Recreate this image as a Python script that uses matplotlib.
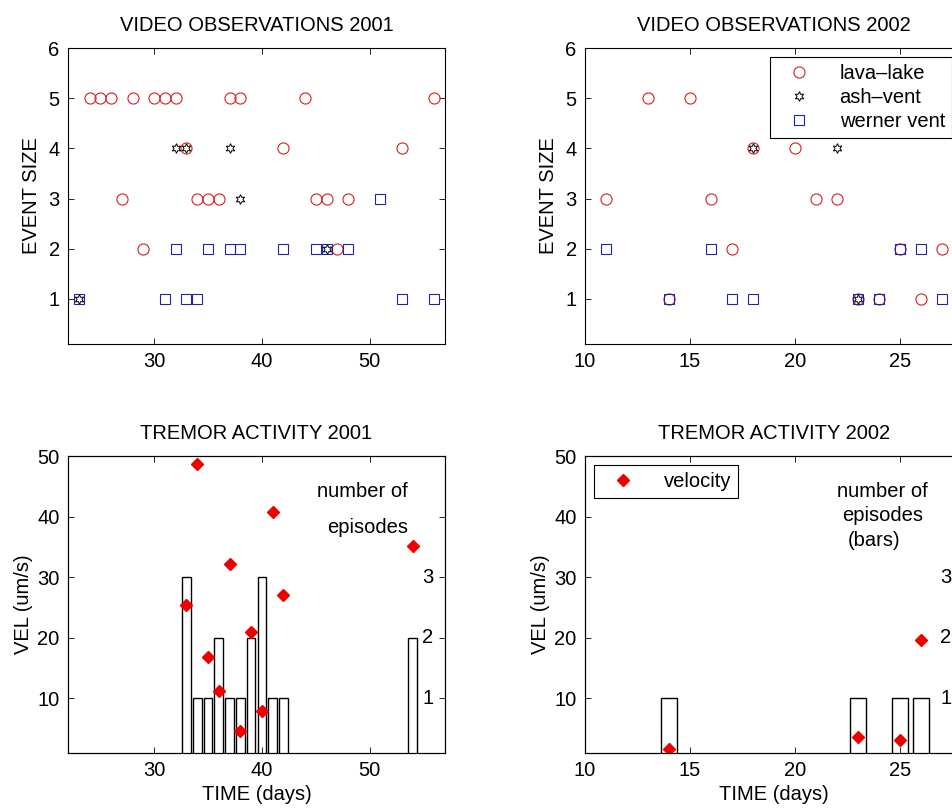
import matplotlib.pyplot as plt
import matplotlib.transforms as mtrans
import numpy as np

plt.rcParams['font.family'] = ['Liberation Sans', 'DejaVu Sans']

# video observations 2001 (day, event size)
lava01_x = [24, 25, 26, 28, 30, 31, 32, 37, 38, 44, 56, 33, 42, 53, 27, 34, 35, 36, 45, 46, 48, 29, 47]
lava01_y = [5, 5, 5, 5, 5, 5, 5, 5, 5, 5, 5, 4, 4, 4, 3, 3, 3, 3, 3, 3, 3, 2, 2]
ash01_x = [32, 33, 37, 38, 46, 23]
ash01_y = [4, 4, 4, 3, 2, 1]
werner01_x = [51, 32, 35, 37, 38, 42, 45, 46, 48, 23, 31, 33, 34, 53, 56]
werner01_y = [3, 2, 2, 2, 2, 2, 2, 2, 2, 1, 1, 1, 1, 1, 1]

# video observations 2002
lava02_x = [13, 15, 18, 20, 11, 16, 21, 22, 17, 25, 27, 14, 23, 24, 26]
lava02_y = [5, 5, 4, 4, 3, 3, 3, 3, 2, 2, 2, 1, 1, 1, 1]
ash02_x = [18, 22, 23]
ash02_y = [4, 4, 1]
werner02_x = [11, 16, 25, 26, 14, 17, 18, 23, 24, 27]
werner02_y = [2, 2, 2, 2, 1, 1, 1, 1, 1, 1]

# tremor 2001: episode counts per day and peak velocity
ep01_day = [33, 34, 35, 36, 37, 38, 39, 40, 41, 42, 54]
ep01_num = [3, 1, 1, 2, 1, 1, 2, 3, 1, 1, 2]
vel01_day = [33, 34, 35, 36, 37, 38, 39, 40, 41, 42, 54]
vel01 = [25.4, 48.7, 16.9, 11.2, 32.1, 4.7, 20.9, 8.0, 40.8, 27.1, 35.2]

# tremor 2002
ep02_day = [14, 23, 25, 26]
ep02_num = [1, 1, 1, 1]
vel02_day = [14, 23, 25, 26]
vel02 = [1.7, 3.6, 3.2, 19.7]

ep_ticks = [1, 2, 3]

RED = '#d42020'
BLUE = '#2222a8'
FS = 14.5

W, H = 953, 808
fig = plt.figure(figsize=(W / 100, H / 100), dpi=100)


def box(l, t, r, b):
    return [l / W, 1 - b / H, (r - l) / W, (b - t) / H]


def style(ax):
    ax.tick_params(direction='in', top=True, right=True, labelsize=FS,
                   length=4, width=0.6, pad=6)
    for s in ax.spines.values():
        s.set_linewidth(0.8)


def video(ax, lx, ly, ax_, ay, wx, wy, title, xlim, xticks):
    ax.plot(lx, ly, 'o', ms=8, mfc='none', mec=RED, mew=0.8, label='lava\u2013lake')
    ax.plot(ax_, ay, marker=(6, 1, 0), ls='none', ms=7, mfc='none', mec='k',
            mew=0.7, label='ash\u2013vent')
    ax.plot(wx, wy, 's', ms=7, mfc='none', mec=BLUE, mew=0.8, label='werner vent')
    ax.set_xlim(*xlim)
    ax.set_ylim(0.1, 6)
    ax.set_xticks(xticks)
    ax.set_yticks([1, 2, 3, 4, 5, 6])
    ax.set_ylabel('EVENT SIZE', fontsize=FS, labelpad=5)
    ax.set_title(title, fontsize=FS, pad=12)
    style(ax)


def tremor(ax, eday, enum, vday, vel, title, xlim, xticks):
    ax2 = ax.twinx()
    ax2.bar(eday, enum, width=0.8, color='white', edgecolor='k', linewidth=1.0)
    ax2.set_ylim(0.1, 5)
    ax2.set_yticks([])
    tr = mtrans.blended_transform_factory(ax2.transAxes, ax2.transData)
    for n in ep_ticks:
        ax2.text(0.955, n, str(n), transform=tr, ha='center', va='center', fontsize=FS)
    ax.set_zorder(ax2.get_zorder() + 1)
    ax.patch.set_visible(False)
    ax.plot(vday, vel, 'D', ms=6.5, color='#ee0000', mec='#ee0000', label='velocity')
    ax.set_xlim(*xlim)
    ax.set_ylim(1, 50)
    ax.set_xticks(xticks)
    ax.set_yticks([10, 20, 30, 40, 50])
    ax.set_ylabel('VEL (um/s)', fontsize=FS, labelpad=3)
    ax.set_xlabel('TIME (days)', fontsize=FS, labelpad=3)
    ax.set_title(title, fontsize=FS, pad=12)
    style(ax)
    for s in ax2.spines.values():
        s.set_linewidth(0.8)
    return ax2


ax1 = fig.add_axes(box(68, 48, 445, 344))
video(ax1, lava01_x, lava01_y, ash01_x, ash01_y, werner01_x, werner01_y,
      'VIDEO OBSERVATIONS 2001', (22, 57), [30, 40, 50])

ax2 = fig.add_axes(box(585, 48, 963, 344))
video(ax2, lava02_x, lava02_y, ash02_x, ash02_y, werner02_x, werner02_y,
      'VIDEO OBSERVATIONS 2002', (10, 28), [10, 15, 20, 25])
ax2.legend(loc='upper right', bbox_to_anchor=(952 / W, 1 - 57 / H),
           bbox_transform=fig.transFigure, fontsize=FS, frameon=True, fancybox=False,
           edgecolor='k', framealpha=1, borderaxespad=0, borderpad=0.35,
           labelspacing=0.25, handlelength=2.2, handletextpad=0.9).get_frame().set_linewidth(0.8)

ax3 = fig.add_axes(box(68, 456, 445, 753))
tremor(ax3, ep01_day, ep01_num, vel01_day, vel01, 'TREMOR ACTIVITY 2001',
       (22, 57), [30, 40, 50])
ax3.text(0.78, 0.882, 'number of', transform=ax3.transAxes, ha='center', va='center', fontsize=FS)
ax3.text(0.796, 0.758, 'episodes', transform=ax3.transAxes, ha='center', va='center', fontsize=FS)

ax4 = fig.add_axes(box(585, 456, 963, 753))
tremor(ax4, ep02_day, ep02_num, vel02_day, vel02, 'TREMOR ACTIVITY 2002',
       (10, 28), [10, 15, 20, 25])
ax4.text(0.786, 0.882, 'number of', transform=ax4.transAxes, ha='center', va='center', fontsize=FS)
ax4.text(0.788, 0.798, 'episodes', transform=ax4.transAxes, ha='center', va='center', fontsize=FS)
ax4.text(0.765, 0.717, '(bars)', transform=ax4.transAxes, ha='center', va='center', fontsize=FS)
ax4.legend(loc='upper left', bbox_to_anchor=(594 / W, 1 - 465 / H),
           bbox_transform=fig.transFigure, fontsize=FS, frameon=True, fancybox=False,
           edgecolor='k', framealpha=1, borderaxespad=0, borderpad=0.35,
           handlelength=2.2, handletextpad=0.9).get_frame().set_linewidth(0.8)

fig.savefig('out.png', dpi=100)
